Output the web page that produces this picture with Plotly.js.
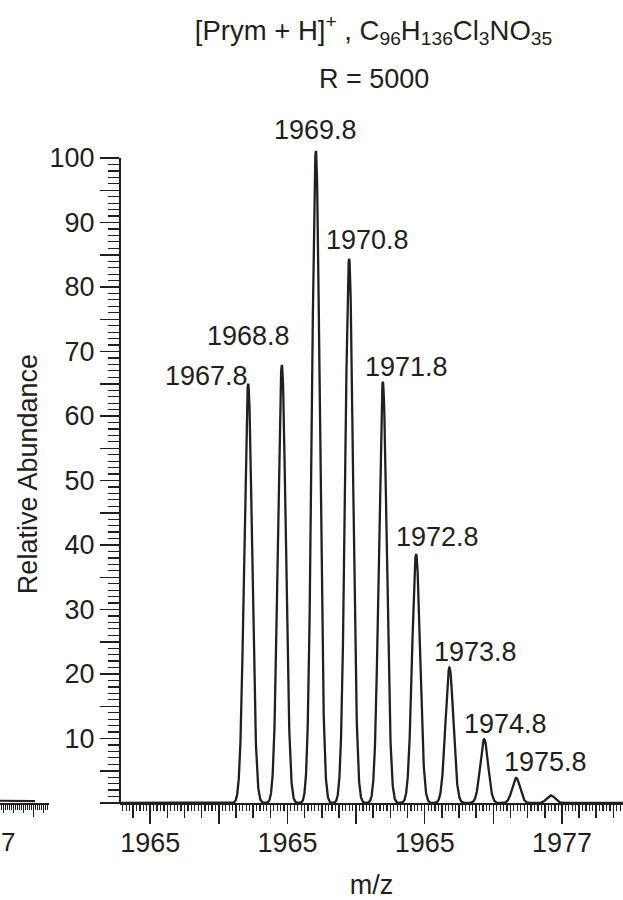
<!DOCTYPE html>
<html><head><meta charset="utf-8">
<script src="https://cdn.plot.ly/plotly-3.0.1.min.js"></script>
<style>html,body{margin:0;padding:0;background:#fff;overflow:hidden}</style>
</head><body><div id="chart" style="width:623px;height:900px"></div>
<script>
// ---------------- data ----------------
const peakLabels = ['1967.8','1968.8','1969.8','1970.8','1971.8','1972.8','1973.8','1974.8','1975.8',''];
const peakMz = [1967.855,1968.837,1969.828,1970.798,1971.780,1972.750,1973.721,1974.733,1975.665,1976.676];
const peakAbundance = [65.0,67.9,101.1,84.4,65.3,38.6,21.0,9.9,3.9,1.2];

// labelled x ticks (the figure prints these texts)
const xTickStart = 1965, xTickStep = 2;
const xTickAlias = {'1969': '1965', '1973': '1965'};
const yLabelVals = [10,20,30,40,50,60,70,80,90,100];

// fragment of the neighbouring panel (left edge)
const leftPanelX = [-0.165,0.3,0.8,1.3,1.585];
const leftPanelY = [0.35,0.35,0.4,0.35,0.3];
const leftTickVals = [0,0.5,1,1.5,2];
const leftLongTick = [1.5];
const leftLabelText = '7';

const titleText = '[Prym + H]<sup>+</sup> , C<sub>96</sub>H<sub>136</sub>Cl<sub>3</sub>NO<sub>35</sub>';
const subTitleText = 'R = 5000';
const xTitle = 'm/z';
const yTitle = 'Relative Abundance';

// ---------------- styles / geometry ----------------
const W = 623, H = 900;
const FONT = 'Liberation Sans, Arial, Helvetica, sans-serif';
const INK = '#231f20';
const xRange = [1964.12, 1978.78];
const yRange = [0, 102];
const axisPxY = 803, pxPerUnitY = 6.45;
const yDomBottom = (H - axisPxY) / H;
const yDomTop = (H - (axisPxY - yRange[1] * pxPerUnitY)) / H;
const yAt100 = (H - (axisPxY - 100 * pxPerUnitY)) / H;
const xDomLeft = 120 / W;
const peakFwhm = 0.27; // line-shape width of the simulated profile
const labelShiftX = [-42,-33,0,18,24,21,26,21,29];
const labelShiftY = [8,29,21,19,15,17,16,15,16];

// profile spectrum built from the stick values
const sigma = peakFwhm / 2.3548;
const profX = [], profY = [];
for (let m = xRange[0]; m <= xRange[1] + 1e-9; m += 0.004) {
  let s = 0;
  for (let i = 0; i < peakMz.length; i++) {
    const d = (m - peakMz[i]) / sigma;
    s += peakAbundance[i] * Math.exp(-0.5 * d * d);
  }
  profX.push(m); profY.push(s);
}

const minorX = [];
for (let k = Math.ceil(xRange[0] * 10); k <= Math.floor(xRange[1] * 10); k++) minorX.push(k / 10);
const midX = [];
for (let k = Math.ceil(xRange[0] * 2); k <= Math.floor(xRange[1] * 2); k++) midX.push(k / 2);
const minorY = [];
for (let v = 0; v <= 100; v++) minorY.push(v);
const leftMinor = [];
for (let k = -1; k <= 22; k++) leftMinor.push(k / 10);

const traces = [
  {x: profX, y: profY, type: 'scatter', mode: 'lines', xaxis: 'x', yaxis: 'y',
   line: {color: INK, width: 2.3}, hoverinfo: 'skip', showlegend: false},
  {x: leftPanelX, y: leftPanelY, type: 'scatter', mode: 'lines', xaxis: 'x2', yaxis: 'y2',
   line: {color: INK, width: 2.2}, hoverinfo: 'skip', showlegend: false},
  // empty traces so that the overlay tick axes are drawn
  {x: [], y: [], type: 'scatter', mode: 'lines', xaxis: 'x3', yaxis: 'y', hoverinfo: 'skip', showlegend: false},
  {x: [], y: [], type: 'scatter', mode: 'lines', xaxis: 'x4', yaxis: 'y2', hoverinfo: 'skip', showlegend: false},
  {x: [], y: [], type: 'scatter', mode: 'lines', xaxis: 'x', yaxis: 'y3', hoverinfo: 'skip', showlegend: false}
];

const annotations = [];
for (let i = 0; i < peakLabels.length; i++) {
  if (!peakLabels[i]) continue;
  annotations.push({x: peakMz[i], y: peakAbundance[i], xref: 'x', yref: 'y', text: peakLabels[i],
    showarrow: false, xanchor: 'center', yanchor: 'middle',
    xshift: labelShiftX[i], yshift: labelShiftY[i], font: {family: FONT, size: 27, color: INK}});
}
annotations.push({x: 373.5 / W, y: 1 - 79 / H, xref: 'paper', yref: 'paper', text: subTitleText,
  showarrow: false, xanchor: 'center', yanchor: 'middle', font: {family: FONT, size: 27, color: INK}});
annotations.push({x: 0, y: 1 - 842 / H, xref: 'paper', yref: 'paper', text: leftLabelText,
  showarrow: false, xanchor: 'left', yanchor: 'middle', borderpad: 0, font: {family: FONT, size: 26, color: INK}});

const tickFont = {family: FONT, size: 27, color: INK};

const layout = {
  width: W, height: H,
  margin: {l: 0, r: 0, t: 0, b: 0},
  paper_bgcolor: '#fff', plot_bgcolor: 'rgba(0,0,0,0)',
  showlegend: false,
  title: {text: titleText, x: 373.5 / W, xanchor: 'center', xref: 'paper',
          y: 1 - 30 / H, yanchor: 'middle', yref: 'paper', font: {family: FONT, size: 27.5, color: INK}},
  // medium (0.5) and minor (0.1) ticks
  xaxis: {domain: [xDomLeft, 1], range: xRange, anchor: 'y',
    showgrid: false, zeroline: false, showline: true, linecolor: INK, linewidth: 2,
    ticks: 'outside', tickmode: 'array', tickvals: midX, ticklen: 13, tickwidth: 1.5, tickcolor: INK,
    showticklabels: false,
    minor: {tickmode: 'array', tickvals: minorX, ticks: 'outside', ticklen: 6, tickwidth: 1.2, tickcolor: INK, showgrid: false}},
  // long ticks every 2 with labels every 4
  xaxis3: {overlaying: 'x', anchor: 'y', side: 'bottom', range: xRange,
    showgrid: false, zeroline: false, showline: false,
    ticks: 'outside', tickmode: 'linear', tick0: xTickStart, dtick: xTickStep, ticklabelstep: 2,
    labelalias: xTickAlias, separatethousands: false, ticklabelstandoff: -4,
    ticklen: 20, tickwidth: 1.5, tickcolor: INK, tickfont: tickFont,
    title: {text: xTitle, font: {family: FONT, size: 27, color: INK}, standoff: 18}},
  yaxis: {domain: [yDomBottom, yDomTop], range: yRange, anchor: 'x',
    showgrid: false, zeroline: false, showline: false,
    ticks: 'outside', tickmode: 'array', tickvals: yLabelVals,
    ticklen: 19, tickwidth: 1.5, tickcolor: INK, tickfont: tickFont,
    minor: {tickmode: 'array', tickvals: minorY, ticks: 'outside', ticklen: 11, tickwidth: 1.2, tickcolor: INK, showgrid: false},
    title: {text: yTitle, font: {family: FONT, size: 27, color: INK}, standoff: 4}},
  // unlabelled major ticks every 5
  yaxis3: {overlaying: 'y', anchor: 'x', side: 'left', range: yRange,
    showgrid: false, zeroline: false, showline: false, showticklabels: false,
    ticks: 'outside', tickmode: 'linear', tick0: 0, dtick: 5, ticklen: 19, tickwidth: 1.5, tickcolor: INK},
  xaxis2: {domain: [0, 49 / W], range: [-0.165, 2.285], anchor: 'y2',
    showgrid: false, zeroline: false, showline: true, linecolor: INK, linewidth: 2,
    ticks: 'outside', tickmode: 'array', tickvals: leftTickVals, ticklen: 8, tickwidth: 1.5, tickcolor: INK,
    showticklabels: false,
    minor: {tickmode: 'array', tickvals: leftMinor, ticks: 'outside', ticklen: 5, tickwidth: 1, tickcolor: INK, showgrid: false}},
  xaxis4: {overlaying: 'x2', anchor: 'y2', side: 'bottom', range: [-0.165, 2.285],
    showgrid: false, zeroline: false, showline: false, showticklabels: false,
    ticks: 'outside', tickmode: 'array', tickvals: leftLongTick, ticklen: 13, tickwidth: 1.5, tickcolor: INK},
  yaxis2: {domain: [yDomBottom, yDomTop], range: yRange, anchor: 'x2', visible: false},
  shapes: [
    {type: 'line', xref: 'paper', yref: 'paper', x0: xDomLeft, x1: xDomLeft, y0: yDomBottom, y1: yAt100,
     line: {color: INK, width: 2}},
    {type: 'line', xref: 'paper', yref: 'paper', x0: 100 / W, x1: xDomLeft, y0: yDomBottom, y1: yDomBottom,
     line: {color: INK, width: 2}}
  ],
  annotations: annotations
};

Plotly.newPlot('chart', traces, layout, {staticPlot: true, displayModeBar: false});
</script></body></html>
